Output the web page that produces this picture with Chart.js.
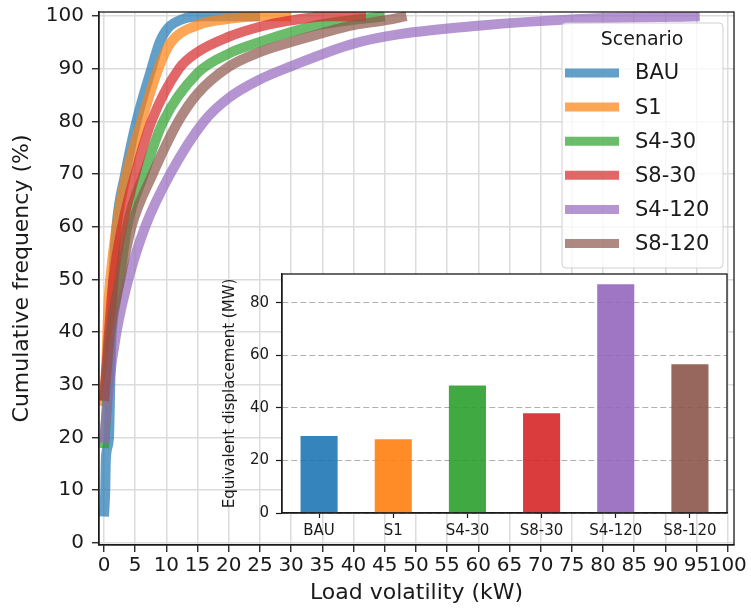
<!DOCTYPE html>
<html>
<head>
<meta charset="utf-8">
<script src="https://cdn.jsdelivr.net/npm/chart.js@4.4.1/dist/chart.umd.min.js"></script>
<style>
  html, body { margin: 0; padding: 0; background: #fff; }
  #wrap { position: relative; width: 751px; height: 610px; }
  #mainBox { position: absolute; left: 0; top: 0; width: 751px; height: 610px; }
  #insetBox { position: absolute; left: 200px; top: 264px; width: 540px; height: 290px; }
</style>
</head>
<body>
<div id="wrap">
  <div id="mainBox"><canvas id="mainChart"></canvas></div>
  <div id="insetBox"><canvas id="insetChart"></canvas></div>
</div>
<script>
// scenario names + tab10 colours (same order in both charts)
const scenarios = ["BAU", "S1", "S4-30", "S8-30", "S4-120", "S8-120"];
const scenarioColors = ["#1f77b4", "#ff7f0e", "#2ca02c", "#d62728", "#9467bd", "#8c564b"];

// main axes ticks
const xTicks = [0, 5, 10, 15, 20, 25, 30, 35, 40, 45, 50, 55, 60, 65, 70, 75, 80, 85, 90, 95, 100];
const yTicks = [0, 10, 20, 30, 40, 50, 60, 70, 80, 90, 100];

// cumulative frequency curves, [load volatility kW, cumulative %]
const cdfBAU = [[0, 5], [0.2, 10], [0.3, 16], [0.8, 20], [1.0, 30], [1.2, 40], [1.5, 50], [2.0, 60], [3.4, 70], [5.2, 80], [7.6, 90], [8.9, 95], [10.3, 97.8], [12.5, 99.4], [15.5, 100], [25, 100]];
const cdfS1 = [[0, 26], [0.4, 35], [0.7, 45], [1.0, 50], [2.0, 60], [3.6, 70], [6.0, 80], [8.7, 90], [10.6, 94.8], [15, 98.3], [20, 99.5], [25, 100], [30, 100]];
const cdfS4_30 = [[0, 18], [0.4, 25], [0.6, 30], [1.2, 40], [2.5, 50], [3.7, 60], [6.4, 70], [9.5, 80], [15, 89.2], [20, 92.9], [25, 95.1], [30, 97], [35, 98.5], [40, 99.3], [45, 100]];
const cdfS8_30 = [[0, 27], [0.5, 35], [0.8, 40], [1.5, 50], [2.9, 60], [5.0, 70], [7.6, 80], [12.0, 90], [15, 93.2], [20, 96.1], [25, 98], [30, 99.2], [36, 100], [42, 100]];
const cdfS4_120 = [[0, 19], [0.8, 30], [2.0, 40], [3.9, 50], [6.6, 60], [10.6, 70], [16, 80], [20, 84.5], [25, 88], [30, 90.5], [40, 94.8], [47.4, 96.6], [60, 98.2], [75, 99.4], [95.5, 100]];
const cdfS8_120 = [[0, 27], [0.6, 35], [1.0, 40], [2.6, 50], [4.4, 60], [7.8, 70], [11.9, 80], [15, 85.3], [20, 90.4], [25, 93.2], [30, 95.1], [35, 96.8], [40, 98.3], [45, 99.2], [48.5, 100]];
const cdfSeries = [cdfBAU, cdfS1, cdfS4_30, cdfS8_30, cdfS4_120, cdfS8_120];

// inset bars: equivalent displacement (MW)
const barValues = [29.3, 28.1, 48.5, 38.0, 87.1, 56.6];
const insetYTicks = [0, 20, 40, 60, 80];

const FONT = "'DejaVu Sans', sans-serif";
const INK = "#1a1a1a";

function withAlpha(hex, a) {
  const n = parseInt(hex.slice(1), 16);
  return `rgba(${(n >> 16) & 255}, ${(n >> 8) & 255}, ${n & 255}, ${a})`;
}

// spines on all four sides, like matplotlib
const frameBox = {
  id: "frameBox",
  afterDraw(chart) {
    const { ctx, chartArea: a } = chart;
    ctx.save();
    ctx.strokeStyle = INK;
    ctx.lineWidth = 1.3;
    ctx.strokeRect(a.left, a.top, a.right - a.left, a.bottom - a.top);
    ctx.restore();
  }
};

// legend box in the upper right, drawn by hand so it can sit inside the axes
const scenarioLegend = {
  id: "scenarioLegend",
  afterDraw(chart) {
    const ctx = chart.ctx;
    const box = { x: 562, y: 23, w: 161, h: 245 };
    ctx.save();
    ctx.beginPath();
    ctx.roundRect(box.x, box.y, box.w, box.h, 4);
    ctx.fillStyle = "rgba(255,255,255,0.8)";
    ctx.fill();
    ctx.strokeStyle = "#d0d0d0";
    ctx.lineWidth = 1;
    ctx.stroke();

    ctx.fillStyle = INK;
    ctx.textBaseline = "middle";
    ctx.textAlign = "center";
    ctx.font = `19px ${FONT}`;
    ctx.fillText("Scenario", 642, 40);

    ctx.textAlign = "left";
    ctx.font = `21px ${FONT}`;
    chart.data.datasets.forEach((ds, i) => {
      const y = 73 + i * 34.1;
      ctx.strokeStyle = ds.borderColor;
      ctx.lineWidth = 9;
      ctx.beginPath();
      ctx.moveTo(565, y);
      ctx.lineTo(619, y);
      ctx.stroke();
      ctx.fillStyle = INK;
      ctx.fillText(ds.label, 635, y + 1);
    });
    ctx.restore();
  }
};

const whiteArea = {
  id: "whiteArea",
  beforeDraw(chart) {
    const { ctx, chartArea: a } = chart;
    ctx.save();
    ctx.fillStyle = "#fff";
    ctx.fillRect(a.left, a.top, a.right - a.left, a.bottom - a.top);
    ctx.restore();
  }
};

const mainDatasets = scenarios.map((name, i) => ({
  label: name,
  data: cdfSeries[i].map(([x, y]) => ({ x, y })),
  borderColor: withAlpha(scenarioColors[i], 0.7),
  borderWidth: 10,
  pointRadius: 0,
  cubicInterpolationMode: "monotone",
  borderCapStyle: "butt",
  borderJoinStyle: "round",
  fill: false,
  clip: 0,
  // later scenarios on top, as in the original
  order: scenarios.length - i
}));

new Chart(document.getElementById("mainChart").getContext("2d"), {
  type: "line",
  data: { datasets: mainDatasets },
  options: {
    responsive: true,
    maintainAspectRatio: false,
    animation: false,
    devicePixelRatio: 1,
    layout: { autoPadding: false, padding: { top: 12, right: 17, left: 0, bottom: 0 } },
    plugins: { legend: { display: false }, tooltip: { enabled: false } },
    scales: {
      x: {
        type: "linear",
        min: -0.8,
        max: 101,
        afterBuildTicks: s => { s.ticks = xTicks.map(v => ({ value: v })); },
        afterFit: s => { s.height = 65; s.paddingLeft = 0; s.paddingRight = 0; },
        grid: { color: "#dcdcdc", lineWidth: 1.5, tickLength: 7, tickColor: INK, tickWidth: 1.3 },
        border: { display: true, color: INK, width: 1.3 },
        ticks: { font: { family: FONT, size: 20 }, color: INK, padding: 2, maxRotation: 0, autoSkip: false },
        title: { display: true, text: "Load volatility (kW)", font: { family: FONT, size: 22 }, color: INK, padding: { top: 0, bottom: 4 } }
      },
      y: {
        type: "linear",
        min: -0.4,
        max: 100.8,
        afterBuildTicks: s => { s.ticks = yTicks.map(v => ({ value: v })); },
        afterFit: s => { s.width = 99; s.paddingTop = 0; s.paddingBottom = 0; },
        grid: { color: "#dcdcdc", lineWidth: 1.5, tickLength: 7, tickColor: INK, tickWidth: 1.3 },
        border: { display: true, color: INK, width: 1.3 },
        ticks: { font: { family: FONT, size: 20 }, color: INK, padding: 8, autoSkip: false },
        title: { display: true, text: "Cumulative frequency (%)", font: { family: FONT, size: 22 }, color: INK, padding: { top: 9, bottom: 0 } }
      }
    }
  },
  plugins: [frameBox, scenarioLegend]
});

new Chart(document.getElementById("insetChart").getContext("2d"), {
  type: "bar",
  data: {
    labels: scenarios,
    datasets: [{
      data: barValues,
      backgroundColor: scenarioColors.map(c => withAlpha(c, 0.9)),
      borderWidth: 0,
      barPercentage: 0.5,
      categoryPercentage: 1
    }]
  },
  options: {
    responsive: true,
    maintainAspectRatio: false,
    animation: false,
    devicePixelRatio: 1,
    layout: { autoPadding: false, padding: { top: 10, right: 13, left: 0, bottom: 0 } },
    plugins: { legend: { display: false }, tooltip: { enabled: false } },
    scales: {
      x: {
        afterFit: s => { s.height = 41; s.paddingLeft = 0; s.paddingRight = 0; },
        grid: { display: true, drawOnChartArea: false, offset: false, tickLength: 5, tickColor: INK, tickWidth: 1.2 },
        border: { display: true, color: INK, width: 1.3 },
        ticks: { font: { family: FONT, size: 15 }, color: INK, padding: 4, maxRotation: 0, autoSkip: false }
      },
      y: {
        min: 0,
        max: 91,
        afterBuildTicks: s => { s.ticks = insetYTicks.map(v => ({ value: v })); },
        afterFit: s => { s.width = 82; s.paddingTop = 0; s.paddingBottom = 0; },
        grid: { color: "#b0b0b0", lineWidth: 1, tickLength: 6, tickColor: INK, tickWidth: 1.2 },
        border: { display: true, color: INK, width: 1.3, dash: [6, 3] },
        ticks: { font: { family: FONT, size: 15 }, color: INK, padding: 7 },
        title: { display: true, text: "Equivalent displacement (MW)", font: { family: FONT, size: 15 }, color: INK, padding: { top: 21, bottom: 0 } }
      }
    }
  },
  plugins: [whiteArea, frameBox]
});
</script>
</body>
</html>
